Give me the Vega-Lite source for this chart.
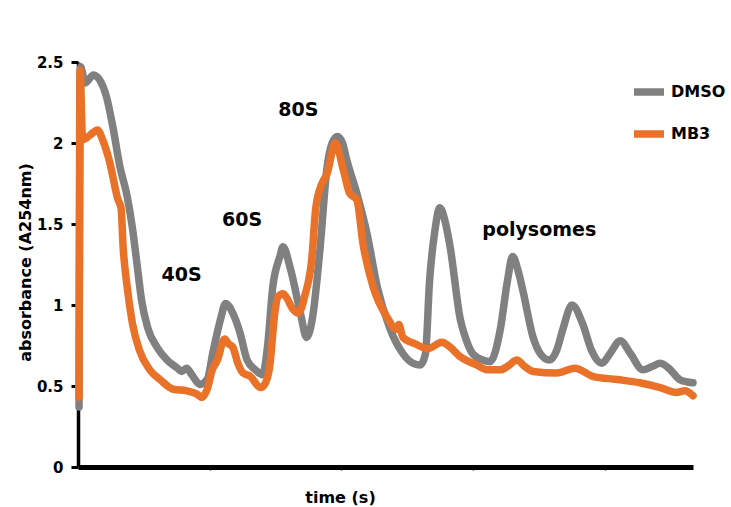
{
  "$schema": "https://vega.github.io/schema/vega-lite/v6.json",
  "width": 615,
  "height": 405,
  "autosize": {"type": "none"},
  "padding": {"left": 78, "top": 62, "right": 38, "bottom": 40},
  "background": "white",
  "config": {
    "view": {"stroke": null},
    "font": "DejaVu Sans"
  },
  "datasets": {
    "profiles": [
      {"t": 0.1, "a": 0.37, "sample": "DMSO"},
      {"t": 0.25, "a": 2.47, "sample": "DMSO"},
      {"t": 0.7, "a": 2.37, "sample": "DMSO"},
      {"t": 1.5, "a": 2.42, "sample": "DMSO"},
      {"t": 2.1, "a": 2.39, "sample": "DMSO"},
      {"t": 2.8, "a": 2.28, "sample": "DMSO"},
      {"t": 3.4, "a": 2.10, "sample": "DMSO"},
      {"t": 4.1, "a": 1.85, "sample": "DMSO"},
      {"t": 4.8, "a": 1.67, "sample": "DMSO"},
      {"t": 5.3, "a": 1.48, "sample": "DMSO"},
      {"t": 5.8, "a": 1.23, "sample": "DMSO"},
      {"t": 6.2, "a": 1.03, "sample": "DMSO"},
      {"t": 6.8, "a": 0.86, "sample": "DMSO"},
      {"t": 7.7, "a": 0.74, "sample": "DMSO"},
      {"t": 8.7, "a": 0.66, "sample": "DMSO"},
      {"t": 9.7, "a": 0.61, "sample": "DMSO"},
      {"t": 10.1, "a": 0.59, "sample": "DMSO"},
      {"t": 10.6, "a": 0.61, "sample": "DMSO"},
      {"t": 11.1, "a": 0.57, "sample": "DMSO"},
      {"t": 11.9, "a": 0.51, "sample": "DMSO"},
      {"t": 12.6, "a": 0.54, "sample": "DMSO"},
      {"t": 13.2, "a": 0.72, "sample": "DMSO"},
      {"t": 13.9, "a": 0.91, "sample": "DMSO"},
      {"t": 14.4, "a": 1.01, "sample": "DMSO"},
      {"t": 15.1, "a": 0.95, "sample": "DMSO"},
      {"t": 15.8, "a": 0.83, "sample": "DMSO"},
      {"t": 16.5, "a": 0.66, "sample": "DMSO"},
      {"t": 17.3, "a": 0.60, "sample": "DMSO"},
      {"t": 18.0, "a": 0.57, "sample": "DMSO"},
      {"t": 18.5, "a": 0.75, "sample": "DMSO"},
      {"t": 19.0, "a": 1.11, "sample": "DMSO"},
      {"t": 19.7, "a": 1.30, "sample": "DMSO"},
      {"t": 20.0, "a": 1.36, "sample": "DMSO"},
      {"t": 20.7, "a": 1.23, "sample": "DMSO"},
      {"t": 21.7, "a": 0.95, "sample": "DMSO"},
      {"t": 22.3, "a": 0.80, "sample": "DMSO"},
      {"t": 22.9, "a": 0.93, "sample": "DMSO"},
      {"t": 23.6, "a": 1.34, "sample": "DMSO"},
      {"t": 24.3, "a": 1.85, "sample": "DMSO"},
      {"t": 24.8, "a": 2.00, "sample": "DMSO"},
      {"t": 25.3, "a": 2.04, "sample": "DMSO"},
      {"t": 25.8, "a": 2.00, "sample": "DMSO"},
      {"t": 26.2, "a": 1.90, "sample": "DMSO"},
      {"t": 27.2, "a": 1.69, "sample": "DMSO"},
      {"t": 28.2, "a": 1.44, "sample": "DMSO"},
      {"t": 29.2, "a": 1.11, "sample": "DMSO"},
      {"t": 30.4, "a": 0.86, "sample": "DMSO"},
      {"t": 31.7, "a": 0.70, "sample": "DMSO"},
      {"t": 32.7, "a": 0.64, "sample": "DMSO"},
      {"t": 33.4, "a": 0.63, "sample": "DMSO"},
      {"t": 33.9, "a": 0.70, "sample": "DMSO"},
      {"t": 34.3, "a": 1.15, "sample": "DMSO"},
      {"t": 34.8, "a": 1.45, "sample": "DMSO"},
      {"t": 35.3, "a": 1.60, "sample": "DMSO"},
      {"t": 35.8, "a": 1.52, "sample": "DMSO"},
      {"t": 36.3, "a": 1.36, "sample": "DMSO"},
      {"t": 37.3, "a": 0.91, "sample": "DMSO"},
      {"t": 37.9, "a": 0.78, "sample": "DMSO"},
      {"t": 38.5, "a": 0.70, "sample": "DMSO"},
      {"t": 39.5, "a": 0.66, "sample": "DMSO"},
      {"t": 40.2, "a": 0.65, "sample": "DMSO"},
      {"t": 41.2, "a": 0.85, "sample": "DMSO"},
      {"t": 41.9, "a": 1.15, "sample": "DMSO"},
      {"t": 42.4, "a": 1.30, "sample": "DMSO"},
      {"t": 42.9, "a": 1.22, "sample": "DMSO"},
      {"t": 43.4, "a": 1.09, "sample": "DMSO"},
      {"t": 44.4, "a": 0.80, "sample": "DMSO"},
      {"t": 45.1, "a": 0.70, "sample": "DMSO"},
      {"t": 46.0, "a": 0.66, "sample": "DMSO"},
      {"t": 46.7, "a": 0.72, "sample": "DMSO"},
      {"t": 47.3, "a": 0.85, "sample": "DMSO"},
      {"t": 48.2, "a": 1.00, "sample": "DMSO"},
      {"t": 49.2, "a": 0.89, "sample": "DMSO"},
      {"t": 50.1, "a": 0.72, "sample": "DMSO"},
      {"t": 51.1, "a": 0.64, "sample": "DMSO"},
      {"t": 51.9, "a": 0.70, "sample": "DMSO"},
      {"t": 52.9, "a": 0.78, "sample": "DMSO"},
      {"t": 53.9, "a": 0.70, "sample": "DMSO"},
      {"t": 55.1, "a": 0.60, "sample": "DMSO"},
      {"t": 56.0, "a": 0.62, "sample": "DMSO"},
      {"t": 56.8, "a": 0.64, "sample": "DMSO"},
      {"t": 57.8, "a": 0.60, "sample": "DMSO"},
      {"t": 58.7, "a": 0.54, "sample": "DMSO"},
      {"t": 60.0, "a": 0.52, "sample": "DMSO"},

      {"t": 0.1, "a": 0.43, "sample": "MB3"},
      {"t": 0.2, "a": 2.45, "sample": "MB3"},
      {"t": 0.45, "a": 2.02, "sample": "MB3"},
      {"t": 1.2, "a": 2.05, "sample": "MB3"},
      {"t": 1.9, "a": 2.08, "sample": "MB3"},
      {"t": 2.4, "a": 2.02, "sample": "MB3"},
      {"t": 3.1, "a": 1.88, "sample": "MB3"},
      {"t": 3.9, "a": 1.65, "sample": "MB3"},
      {"t": 4.2, "a": 1.60, "sample": "MB3"},
      {"t": 4.4, "a": 1.36, "sample": "MB3"},
      {"t": 4.8, "a": 1.11, "sample": "MB3"},
      {"t": 5.3, "a": 0.89, "sample": "MB3"},
      {"t": 6.0, "a": 0.72, "sample": "MB3"},
      {"t": 7.0, "a": 0.60, "sample": "MB3"},
      {"t": 8.0, "a": 0.54, "sample": "MB3"},
      {"t": 9.3, "a": 0.48, "sample": "MB3"},
      {"t": 10.6, "a": 0.47, "sample": "MB3"},
      {"t": 11.6, "a": 0.45, "sample": "MB3"},
      {"t": 12.1, "a": 0.43, "sample": "MB3"},
      {"t": 12.6, "a": 0.48, "sample": "MB3"},
      {"t": 13.1, "a": 0.60, "sample": "MB3"},
      {"t": 13.6, "a": 0.66, "sample": "MB3"},
      {"t": 14.3, "a": 0.79, "sample": "MB3"},
      {"t": 14.7, "a": 0.76, "sample": "MB3"},
      {"t": 15.1, "a": 0.74, "sample": "MB3"},
      {"t": 15.6, "a": 0.64, "sample": "MB3"},
      {"t": 16.1, "a": 0.58, "sample": "MB3"},
      {"t": 16.8, "a": 0.56, "sample": "MB3"},
      {"t": 17.8, "a": 0.49, "sample": "MB3"},
      {"t": 18.3, "a": 0.52, "sample": "MB3"},
      {"t": 18.7, "a": 0.62, "sample": "MB3"},
      {"t": 19.2, "a": 0.95, "sample": "MB3"},
      {"t": 19.5, "a": 1.05, "sample": "MB3"},
      {"t": 20.0, "a": 1.07, "sample": "MB3"},
      {"t": 20.4, "a": 1.04, "sample": "MB3"},
      {"t": 20.9, "a": 0.98, "sample": "MB3"},
      {"t": 21.5, "a": 0.95, "sample": "MB3"},
      {"t": 21.9, "a": 1.00, "sample": "MB3"},
      {"t": 22.1, "a": 1.05, "sample": "MB3"},
      {"t": 22.8, "a": 1.28, "sample": "MB3"},
      {"t": 23.2, "a": 1.60, "sample": "MB3"},
      {"t": 23.8, "a": 1.75, "sample": "MB3"},
      {"t": 24.3, "a": 1.81, "sample": "MB3"},
      {"t": 25.1, "a": 2.00, "sample": "MB3"},
      {"t": 25.9, "a": 1.83, "sample": "MB3"},
      {"t": 26.5, "a": 1.69, "sample": "MB3"},
      {"t": 27.2, "a": 1.65, "sample": "MB3"},
      {"t": 27.8, "a": 1.38, "sample": "MB3"},
      {"t": 28.8, "a": 1.11, "sample": "MB3"},
      {"t": 30.1, "a": 0.93, "sample": "MB3"},
      {"t": 31.1, "a": 0.85, "sample": "MB3"},
      {"t": 31.3, "a": 0.88, "sample": "MB3"},
      {"t": 31.7, "a": 0.80, "sample": "MB3"},
      {"t": 32.9, "a": 0.76, "sample": "MB3"},
      {"t": 34.1, "a": 0.73, "sample": "MB3"},
      {"t": 35.5, "a": 0.77, "sample": "MB3"},
      {"t": 36.3, "a": 0.74, "sample": "MB3"},
      {"t": 37.3, "a": 0.68, "sample": "MB3"},
      {"t": 38.9, "a": 0.63, "sample": "MB3"},
      {"t": 39.9, "a": 0.60, "sample": "MB3"},
      {"t": 41.2, "a": 0.60, "sample": "MB3"},
      {"t": 42.1, "a": 0.63, "sample": "MB3"},
      {"t": 42.8, "a": 0.66, "sample": "MB3"},
      {"t": 43.6, "a": 0.62, "sample": "MB3"},
      {"t": 44.4, "a": 0.59, "sample": "MB3"},
      {"t": 46.7, "a": 0.58, "sample": "MB3"},
      {"t": 48.5, "a": 0.61, "sample": "MB3"},
      {"t": 50.2, "a": 0.56, "sample": "MB3"},
      {"t": 52.6, "a": 0.54, "sample": "MB3"},
      {"t": 54.8, "a": 0.52, "sample": "MB3"},
      {"t": 56.8, "a": 0.49, "sample": "MB3"},
      {"t": 58.4, "a": 0.46, "sample": "MB3"},
      {"t": 59.2, "a": 0.47, "sample": "MB3"},
      {"t": 60.0, "a": 0.44, "sample": "MB3"}
    ],
    "fractions": [
      {"t": 10.1, "a": 1.185, "label": "40S"},
      {"t": 16.0, "a": 1.525, "label": "60S"},
      {"t": 21.5, "a": 2.204, "label": "80S"},
      {"t": 45.0, "a": 1.463, "label": "polysomes"}
    ]
  },
  "layer": [
    {
      "data": {"name": "profiles"},
      "mark": {"type": "line", "strokeWidth": 7.5, "strokeCap": "round", "strokeJoin": "round", "interpolate": "monotone"},
      "encoding": {
        "x": {
          "field": "t", "type": "quantitative",
          "scale": {"domain": [0, 60], "nice": false, "zero": false},
          "axis": {
            "title": "time (s)",
            "values": [12.85, 25.7, 38.55, 51.4],
            "labels": false,
            "grid": false,
            "domainColor": "black",
            "domainWidth": 5,
            "tickColor": "black",
            "tickWidth": 1.5,
            "tickSize": 3,
            "titleFont": "DejaVu Sans",
            "titleFontSize": 16,
            "titleFontWeight": "bold",
            "titleColor": "black",
            "titleX": 262,
            "titleY": 30,
            "titleAlign": "center",
            "titleBaseline": "middle"
          }
        },
        "y": {
          "field": "a", "type": "quantitative",
          "scale": {"domain": [0, 2.5], "nice": false},
          "axis": {
            "title": "absorbance (A254nm)",
            "values": [0, 0.5, 1, 1.5, 2, 2.5],
            "format": "~g",
            "grid": false,
            "domainColor": "black",
            "domainWidth": 3.5,
            "tickColor": "black",
            "tickWidth": 3,
            "tickSize": 7,
            "labelPadding": 8,
            "labelFont": "DejaVu Sans",
            "labelFontSize": 15,
            "labelFontWeight": "bold",
            "labelColor": "black",
            "titleFont": "DejaVu Sans",
            "titleFontSize": 16,
            "titleFontWeight": "bold",
            "titleColor": "black",
            "titleAngle": 270,
            "titleX": -53,
            "titleY": 200,
            "titleAlign": "center",
            "titleBaseline": "middle"
          }
        },
        "color": {
          "field": "sample", "type": "nominal",
          "scale": {"domain": ["DMSO", "MB3"], "range": ["#808080", "#E97128"]},
          "legend": {
            "title": null,
            "orient": "none",
            "legendX": 552,
            "legendY": 11,
            "padding": 0,
            "symbolType": "stroke",
            "symbolSize": 900,
            "symbolStrokeWidth": 7.5,
            "rowPadding": 8,
            "labelOffset": 3,
            "labelFont": "DejaVu Sans",
            "labelFontSize": 16,
            "labelFontWeight": "bold",
            "labelColor": "black"
          }
        }
      }
    },
    {
      "data": {"name": "fractions"},
      "mark": {"type": "text", "font": "DejaVu Sans", "fontSize": 19, "fontWeight": "bold", "color": "black", "align": "center", "baseline": "middle"},
      "encoding": {
        "x": {"field": "t", "type": "quantitative"},
        "y": {"field": "a", "type": "quantitative"},
        "text": {"field": "label"}
      }
    }
  ]
}
